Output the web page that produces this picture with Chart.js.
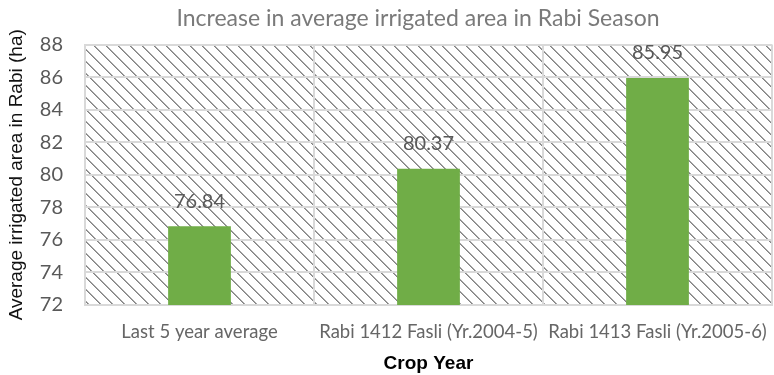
<!DOCTYPE html>
<html>
<head>
<meta charset="utf-8">
<title>Increase in average irrigated area in Rabi Season</title>
<script src="https://cdn.jsdelivr.net/npm/chart.js@4/dist/chart.umd.min.js"></script>
<style>
  html, body { margin: 0; padding: 0; background: #ffffff; }
  #wrap { width: 774px; height: 375px; }
</style>
</head>
<body>
<div id="wrap"><canvas id="chart" width="774" height="375"></canvas></div>
<script>
// Crop years and average irrigated area (ha) in Rabi
const categories = ['Last 5 year average', 'Rabi 1412 Fasli (Yr.2004-5)', 'Rabi 1413 Fasli (Yr.2005-6)'];
const irrigatedArea = [76.84, 80.37, 85.95];
const yTicks = [72, 74, 76, 78, 80, 82, 84, 86, 88];

const chartTitle = 'Increase in average irrigated area in Rabi Season';
const xTitle = 'Crop Year';
const yTitle = 'Average irrigated area in Rabi (ha)';

// Diagonal hatch tile for the plot background
function makeHatch() {
  const s = 12;
  const c = document.createElement('canvas');
  c.width = s; c.height = s;
  const g = c.getContext('2d');
  g.fillStyle = '#ffffff';
  g.fillRect(0, 0, s, s);
  g.fillStyle = '#838383';
  for (let i = 0; i < s; i++) g.fillRect(i, i, 1, 1);
  g.fillStyle = '#a6a6a6';
  for (let i = 0; i < s; i++) g.fillRect((i + 1) % s, i, 1, 1);
  return c;
}

const hatchBackground = {
  id: 'hatchBackground',
  beforeDraw(chart) {
    const { ctx, chartArea: a } = chart;
    ctx.save();
    ctx.fillStyle = ctx.createPattern(makeHatch(), 'repeat');
    ctx.fillRect(a.left, a.top, a.right - a.left, a.bottom - a.top);
    ctx.restore();
  }
};

// Nudge the title block slightly left of the plot-area centre
const titleShift = {
  id: 'titleShift',
  afterLayout(chart) {
    const t = chart.titleBlock;
    if (t) { t.left -= 21; }
  }
};

// Value labels above each bar
const valueLabels = {
  id: 'valueLabels',
  afterDatasetsDraw(chart) {
    const { ctx } = chart;
    const meta = chart.getDatasetMeta(0);
    ctx.save();
    ctx.font = '20px Lato, "Open Sans", sans-serif';
    ctx.fillStyle = '#595959';
    ctx.textAlign = 'center';
    ctx.textBaseline = 'middle';
    meta.data.forEach((bar, i) => {
      ctx.fillText(irrigatedArea[i].toFixed(2), bar.x, bar.y - 25);
    });
    ctx.restore();
  }
};

new Chart(document.getElementById('chart'), {
  type: 'bar',
  data: {
    labels: categories,
    datasets: [{
      data: irrigatedArea,
      backgroundColor: '#70ad47',
      borderWidth: 0,
      barPercentage: 1,
      categoryPercentage: 0.274
    }]
  },
  options: {
    responsive: false,
    animation: false,
    devicePixelRatio: 1,
    layout: { padding: { left: 0, right: 2, top: 0, bottom: 0 } },
    plugins: {
      legend: { display: false },
      tooltip: { enabled: false },
      title: {
        display: true,
        text: chartTitle,
        fullSize: false,
        color: '#7a7a7a',
        font: { family: 'Lato, "Open Sans", sans-serif', size: 23, weight: 'normal', lineHeight: 1.2 },
        padding: { top: 5, bottom: 12 }
      }
    },
    scales: {
      x: {
        grid: { color: '#d9d9d9', lineWidth: 2, drawTicks: false, offset: true },
        border: { color: '#d9d9d9', width: 2 },
        ticks: {
          color: '#666666',
          font: { family: 'Lato, "Open Sans", sans-serif', size: 18.5 },
          padding: 16,
          maxRotation: 0,
          autoSkip: false
        },
        title: {
          display: true,
          text: xTitle,
          color: '#000000',
          font: { family: '"Liberation Sans", Arial, sans-serif', size: 19, weight: 'bold' },
          padding: { top: 4, bottom: 0 }
        },
        afterFit(scale) {
          scale.height = 70;
          scale.paddingLeft = 0;
          scale.paddingRight = 0;
        }
      },
      y: {
        min: 72,
        max: 88,
        afterBuildTicks(scale) { scale.ticks = yTicks.map(v => ({ value: v })); },
        grid: { color: '#d9d9d9', lineWidth: 2, drawTicks: false },
        border: { color: '#d9d9d9', width: 2 },
        ticks: {
          color: '#595959',
          font: { family: 'Lato, "Open Sans", sans-serif', size: 20 },
          padding: 22
        },
        title: {
          display: true,
          text: yTitle,
          color: '#111111',
          font: { family: '"Liberation Sans", Arial, sans-serif', size: 19 },
          padding: { top: 5, bottom: 0 }
        },
        afterFit(scale) { scale.width = 85; }
      }
    }
  },
  plugins: [hatchBackground, titleShift, valueLabels]
});
</script>
</body>
</html>
